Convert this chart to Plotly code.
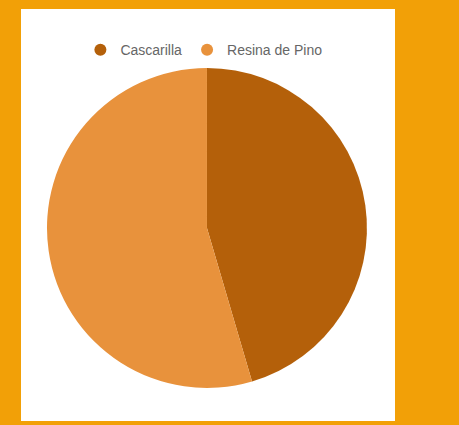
import plotly.graph_objects as go

# Share of each ingredient
categories = ["Cascarilla", "Resina de Pino"]
values = [5, 6]
colors = ["#B4600A", "#E8923C"]

W, H = 459, 425
# white card inside the orange frame (pixels)
card_l, card_r, card_t, card_b = 21, 395, 9, 421

fig = go.Figure()

fig.add_trace(go.Pie(
    labels=categories,
    values=values,
    marker=dict(colors=colors, line=dict(width=0)),
    sort=False,
    direction="clockwise",
    rotation=0,
    textinfo="none",
    hoverinfo="label+percent",
    showlegend=False,
    domain=dict(x=[0.0695, 0.925], y=[0.080, 0.857]),
))

# Legend entries drawn with round markers
for name, col in zip(categories, colors):
    fig.add_trace(go.Scatter(
        x=[None], y=[None], mode="markers", name=name,
        marker=dict(symbol="circle", size=11, color=col),
        showlegend=True, hoverinfo="skip",
    ))

fig.update_layout(
    width=W, height=H,
    margin=dict(l=card_l, r=W - card_r, t=card_t, b=H - card_b, pad=0),
    paper_bgcolor="#F2A007",
    plot_bgcolor="#FFFFFF",
    xaxis=dict(visible=False),
    yaxis=dict(visible=False),
    shapes=[dict(type="rect", xref="paper", yref="paper", x0=0, x1=1, y0=0, y1=1,
                 fillcolor="#FFFFFF", line=dict(width=0), layer="below")],
    legend=dict(
        orientation="h",
        x=0.489, xanchor="center",
        y=0.9, yanchor="middle",
        font=dict(family="Liberation Sans, Arial, sans-serif", size=14, color="#666666"),
        bgcolor="rgba(0,0,0,0)",
        itemsizing="constant",
    ),
)

fig.write_html("out.html")
